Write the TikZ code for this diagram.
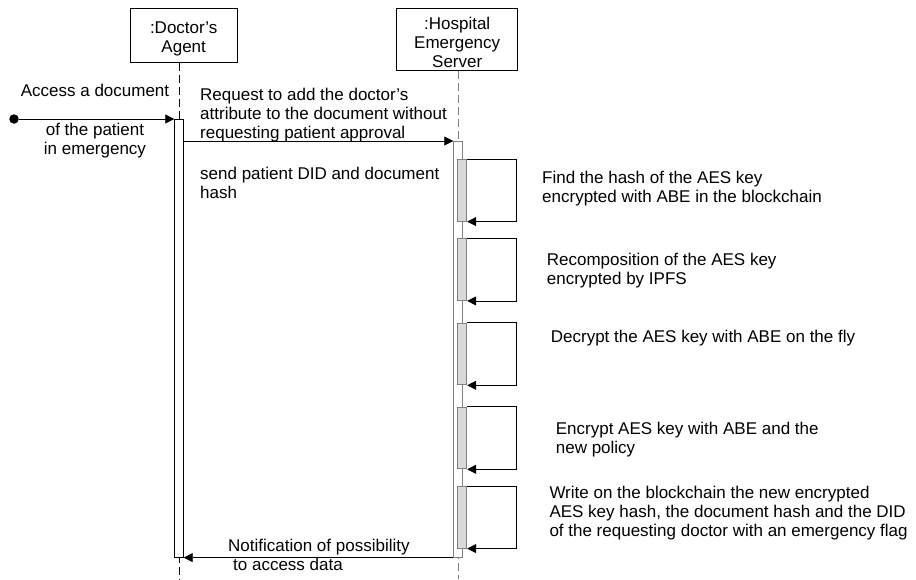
\documentclass[tikz,border=0pt]{standalone}
\usepackage{fontspec}
\setmainfont{Liberation Sans}
\usepackage{tikz}
\usetikzlibrary{positioning}
\usetikzlibrary{arrows.meta,shapes}
\usetikzlibrary{calc}

\definecolor{linegray}{RGB}{128,128,128}
\definecolor{actgray}{RGB}{217,217,217}

\tikzset{
  every node/.style={font=\fontsize{17}{19}\selectfont, inner sep=0pt},
  objbox/.style={draw, line width=0.8pt, align=center},
  actbox/.style={draw, fill=white, line width=0.9pt, minimum width=8.5pt, anchor=north},
  subact/.style={draw=linegray, fill=actgray, line width=0.9pt, minimum width=9pt, minimum height=61.7pt, anchor=north},
  lifeline/.style={line width=0.8pt, dash pattern=on 8pt off 4pt},
  msg/.style={-{Triangle[length=9pt,width=9pt]}, line width=0.8pt},
  txtl/.style={align=left, anchor=west},
  startdot/.style={circle, fill=black, minimum size=9.5pt}
}

\begin{document}
\begin{tikzpicture}[x=1pt, y=-1pt]

  \def\xd{179};
  \def\xs{458};

  \useasboundingbox (0,0) rectangle (916,579);

  % participants
  \node[objbox, minimum width=107pt, minimum height=54pt] (doctor) at (183.7,35.3) {\rule{0pt}{19pt}:Doctor’s\\Agent};
  \node[objbox, minimum width=121pt, minimum height=62.7pt] (server) at (457.2,39.3) {\rule{0pt}{18pt}:Hospital\\Emergency\\Server};

  \coordinate (dfoot) at (\xd,579);
  \coordinate (sfoot) at (\xs,579);
  \draw[lifeline] (doctor.south -| dfoot) -- (dfoot);
  \draw[lifeline, linegray] (server.south -| sfoot) -- (sfoot);

  % activations
  \node[actbox, minimum height=438.3pt] (actD) at (\xd,119) {};
  \node[actbox, draw=linegray, minimum height=415.7pt] (actS) at (\xs,141) {};

  % found message
  \node[startdot] (init) at (14,119) {};
  \draw[msg] (init) -- (init -| actD.west);
  \node (access) at (95,90) {Access a document};
  \node[align=center] (patient) at (95,141) {of the patient\\in emergency};

  \draw[msg] (actS.north west -| actD.east) -- (actS.north west);
  \node[txtl] (request) at (200,115) {Request to add the doctor’s\\attribute to the document without\\requesting patient approval};
  \node[txtl] (sendid) at (200,183) {send patient DID and document\\hash};

  % self calls
  \foreach \t/\name in {159/c1, 238.3/c2, 322.7/c3, 406.7/c4, 486/c5}{
    \node[subact] (\name) at (462.2,\t) {};
    \draw[msg] (\name.north east) -- ++(49,0) |- (\name.south east);
  }

  \node[txtl] (find) at (542,189) {Find the hash of the AES key\\encrypted with ABE in the blockchain};
  \node[txtl] (recomp) at (546.7,271) {Recomposition of the AES key\\encrypted by IPFS};
  \node[txtl] (decrypt) at (550.7,338.5) {Decrypt the AES key with ABE on the fly};
  \node[txtl] (encrypt) at (555.7,439.5) {Encrypt AES key with ABE and the\\new policy};
  \node[txtl] (write) at (549.3,513.5) {Write on the blockchain the new encrypted\\AES key hash, the document hash and the DID\\of the requesting doctor with an emergency flag};

  % reply
  \draw[msg] (actS.south west) -- (actS.south west -| actD.east);
  \node[txtl] (notif) at (228,555) {Notification of possibility\\\hspace*{5pt}to access data};

\end{tikzpicture}
\end{document}
